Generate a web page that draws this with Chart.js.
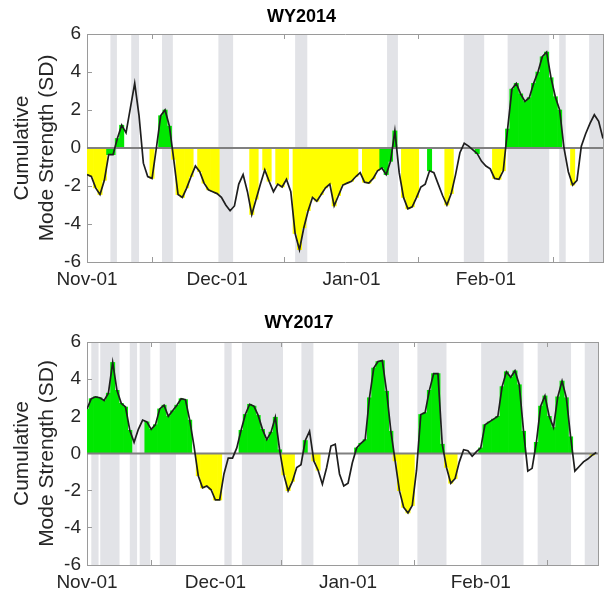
<!DOCTYPE html>
<html>
<head>
<meta charset="utf-8">
<script src="https://cdn.jsdelivr.net/npm/chart.js@4.4.1/dist/chart.umd.min.js"></script>
<style>
  html, body { margin: 0; padding: 0; background: #ffffff; }
  #wrap { position: relative; width: 608px; height: 607px; }
  canvas { position: absolute; left: 0; }
</style>
</head>
<body>
<div id="wrap">
  <canvas id="c2014" width="608" height="304" style="top:0px"></canvas>
  <canvas id="c2017" width="608" height="303" style="top:304px"></canvas>
</div>
<script>
// Day index 0 = Nov-01; one value per day through the end of February.
const tickDays = [0, 30, 61, 92];
const tickLabels = ['Nov-01', 'Dec-01', 'Jan-01', 'Feb-01'];

// WY2014 cumulative mode strength (SD), daily
const wy2014Values = [
  -1.4, -1.5, -2.1, -2.45, -1.7, -0.35, -0.35, 0.5, 1.2, 0.8,
  2.1, 3.4, 1.7, -0.8, -1.5, -1.6, 0.0, 1.7, 2.0, 1.15,
  -0.6, -2.45, -2.6, -2.1, -1.5, -0.95, -1.25, -1.85, -2.2, -2.3,
  -2.4, -2.6, -3.0, -3.3, -3.05, -1.9, -1.4, -2.3, -3.5, -2.7,
  -1.9, -1.15, -1.75, -2.3, -1.9, -2.05, -1.65, -2.3, -4.5, -5.35,
  -4.2, -3.3, -2.6, -2.8, -2.45, -2.1, -1.9, -3.05, -2.5, -1.95,
  -1.85, -1.75, -1.5, -1.3, -1.8, -1.85, -1.6, -1.2, -1.05, -1.4,
  -0.7, 0.9, -1.3, -2.6, -3.2, -3.1, -2.6, -2.05, -1.9, -1.2,
  -1.3, -1.9, -2.5, -3.0, -2.4, -1.4, -0.25, 0.25, 0.1, -0.1,
  -0.3, -0.7, -0.95, -1.1, -1.6, -1.65, -1.2, 1.0, 3.1, 3.4,
  2.85, 2.45, 2.65, 3.4, 4.0, 4.8, 5.05, 3.7, 2.7, 2.0,
  0.0, -1.25, -1.95, -1.7, 0.1, 0.75, 1.3, 1.75, 1.4, 0.5
];
// daily fill class: g = green, y = yellow, . = none
const wy2014Fill =
  'yyyyygggg.' + '.....y.ggg' + 'yyyyy.yyyy' + 'y.......yy' +
  '.yy.yyy.yy' + 'yyyyyyyyyy' + 'yyy.yyyygg' + 'gg.yyyy..g' +
  '...yy.....' + 'g...yyyggg' + 'gggggggggg' + '..y.......';
// shaded day spans
const wy2014Shade = [
  [5.4, 6.9], [10.2, 12.0], [17.3, 19.8], [30.3, 33.7], [48.0, 50.8],
  [69.2, 71.7], [86.9, 91.6], [97.0, 106.6], [108.9, 110.4], [115.8, 119.5]
];

// WY2017 cumulative mode strength (SD), daily
const wy2017Values = [
  2.4, 2.95, 3.05, 3.0, 2.85, 3.25, 4.9, 3.4, 2.7, 2.5,
  1.25, 0.6, 1.3, 1.8, 1.7, 1.3, 1.55, 2.4, 2.6, 2.0,
  2.3, 2.6, 2.95, 2.9, 1.8, 0.4, -1.2, -1.85, -1.75, -1.95,
  -2.5, -2.5, -1.1, -0.25, -0.25, 0.3, 1.25, 2.1, 2.65, 2.55,
  2.05, 1.3, 0.75, 1.15, 1.95, 0.2, -1.15, -2.0, -1.5, -0.75,
  -0.6, 0.7, 1.2, -0.4, -0.9, -1.65, -0.75, 0.4, 0.5, -1.1,
  -1.75, -1.6, -0.5, 0.3, 0.55, 0.75, 3.0, 4.6, 4.95, 5.0,
  3.35, 1.2, -0.4, -2.0, -2.9, -3.2, -2.8, -0.9, 2.1, 2.2,
  3.4, 4.3, 4.3, 0.5, -0.75, -1.6, -1.35, -0.45, 0.2, 0.15,
  -0.15, 0.1, 0.3, 1.55, 1.7, 1.85, 2.0, 3.6, 4.4, 4.1,
  4.45, 3.7, 1.2, -0.95, -0.8, 0.6, 2.55, 3.1, 2.0, 1.4,
  3.05, 3.9, 3.0, 0.9, -0.95, -0.7, -0.45, -0.3, -0.1, 0.05
];
const wy2017Fill =
  'gggggggggg' + 'g...gggggg' + 'ggggg.yyyy' + 'yy....gggg' +
  'ggggggyyy.' + '.g.yy.....' + '...ggggggg' + 'ggyyyyy.gg' +
  'ggggyyy...' + '..gggggggg' + 'ggg..ggggg' + 'gggg....y.';
const wy2017Shade = [
  [1.0, 2.7], [3.1, 7.6], [10.0, 11.7], [12.3, 14.8], [17.0, 20.8],
  [32.1, 33.8], [36.2, 45.8], [50.1, 52.9], [63.3, 72.9], [77.2, 84.0],
  [92.1, 102.0], [105.3, 113.1], [116.3, 119.6]
];

const GREEN = 'rgb(0,232,0)';
const YELLOW = 'rgb(255,255,0)';
const SHADE = 'rgb(226,227,231)';
const FRAME = '#9a9a9a';
const TEXT = '#262626';

Chart.defaults.font.family = '"Liberation Sans", Arial, Helvetica, sans-serif';
Chart.defaults.color = TEXT;

// Shaded day spans behind everything, placed through the x scale
const shadeBands = {
  id: 'shadeBands',
  beforeDraw(chart, args, opts) {
    const { ctx, chartArea: a, scales: { x } } = chart;
    ctx.save();
    ctx.fillStyle = opts.color;
    for (const [s, e] of opts.spans) {
      const x0 = Math.max(x.getPixelForValue(s), a.left);
      const x1 = Math.min(x.getPixelForValue(e), a.right);
      if (x1 > x0) ctx.fillRect(x0, a.top, x1 - x0, a.bottom - a.top);
    }
    ctx.restore();
  }
};

function drawPanel(canvasId, title, values, fillCodes, spans, xMax, geom) {
  const pts = values.map((v, d) => ({ x: d, y: v }));
  const green = pts.filter((p, d) => fillCodes[d] === 'g');
  const yellow = pts.filter((p, d) => fillCodes[d] === 'y');
  const setTicks = (scale) => { scale.ticks = tickDays.map(v => ({ value: v })); };

  new Chart(document.getElementById(canvasId), {
    type: 'bar',
    data: {
      datasets: [
        { type: 'line', data: pts, borderColor: '#1e1e1e', borderWidth: 1.7,
          pointRadius: 0, tension: 0, order: 0 },
        { type: 'line', data: [{ x: 0, y: 0 }, { x: xMax, y: 0 }],
          borderColor: '#808080', borderWidth: 2.2, pointRadius: 0, order: 1 },
        { type: 'bar', data: green, backgroundColor: GREEN, grouped: false,
          barPercentage: 1, categoryPercentage: 1, borderWidth: 0, order: 2 },
        { type: 'bar', data: yellow, backgroundColor: YELLOW, grouped: false,
          barPercentage: 1, categoryPercentage: 1, borderWidth: 0, order: 3 }
      ]
    },
    options: {
      responsive: false,
      animation: false,
      events: [],
      devicePixelRatio: 1,
      layout: { padding: { left: 0, right: geom.right, top: 0, bottom: 0 } },
      plugins: {
        legend: { display: false },
        tooltip: { enabled: false },
        title: {
          display: true, text: title, color: '#000',
          font: { size: 18, weight: 'bold' },
          padding: { top: geom.titleTop, bottom: geom.titleBottom }
        },
        shadeBands: { color: SHADE, spans: spans }
      },
      scales: {
        x: {
          type: 'linear', position: 'bottom', min: 0, max: xMax, offset: false,
          afterBuildTicks: setTicks,
          afterFit: (s) => { s.height = geom.xAxisHeight; },
          grid: { drawOnChartArea: false, drawTicks: true, tickLength: -5, color: FRAME },
          border: { color: FRAME, width: 1 },
          ticks: {
            autoSkip: false, maxRotation: 0, padding: 11.6, color: TEXT,
            font: { size: 19 },
            callback: (v) => tickLabels[tickDays.indexOf(v)]
          }
        },
        x2: {
          type: 'linear', position: 'top', min: 0, max: xMax, offset: false,
          afterBuildTicks: setTicks,
          afterFit: (s) => { s.height = 0; },
          grid: { drawOnChartArea: false, drawTicks: true, tickLength: -5, color: FRAME },
          border: { color: FRAME, width: 1 },
          ticks: { display: false }
        },
        y: {
          type: 'linear', position: 'left', min: -6, max: 6,
          afterFit: (s) => { s.width = 87; },
          grid: { drawOnChartArea: false, drawTicks: true, tickLength: -5, color: FRAME },
          border: { color: FRAME, width: 1 },
          ticks: { stepSize: 2, padding: 11, color: TEXT, font: { size: 19 } },
          title: {
            display: true, text: ['Cumulative', 'Mode Strength (SD)'], color: TEXT,
            font: { size: 21, lineHeight: 25 / 21 }, padding: { top: 9.5, bottom: 0 }
          }
        },
        y2: {
          type: 'linear', position: 'right', min: -6, max: 6,
          afterFit: (s) => { s.width = 0; },
          grid: { display: false },
          border: { color: FRAME, width: 1 },
          ticks: { display: false }
        }
      }
    },
    plugins: [shadeBands]
  });
}

drawPanel('c2014', 'WY2014', wy2014Values, wy2014Fill, wy2014Shade, 119,
  { right: 5, titleTop: 6, titleBottom: 6.4, xAxisHeight: 42 });
drawPanel('c2017', 'WY2017', wy2017Values, wy2017Fill, wy2017Shade, 119.4,
  { right: 10, titleTop: 8, titleBottom: 8.4, xAxisHeight: 42 });
</script>
</body>
</html>
